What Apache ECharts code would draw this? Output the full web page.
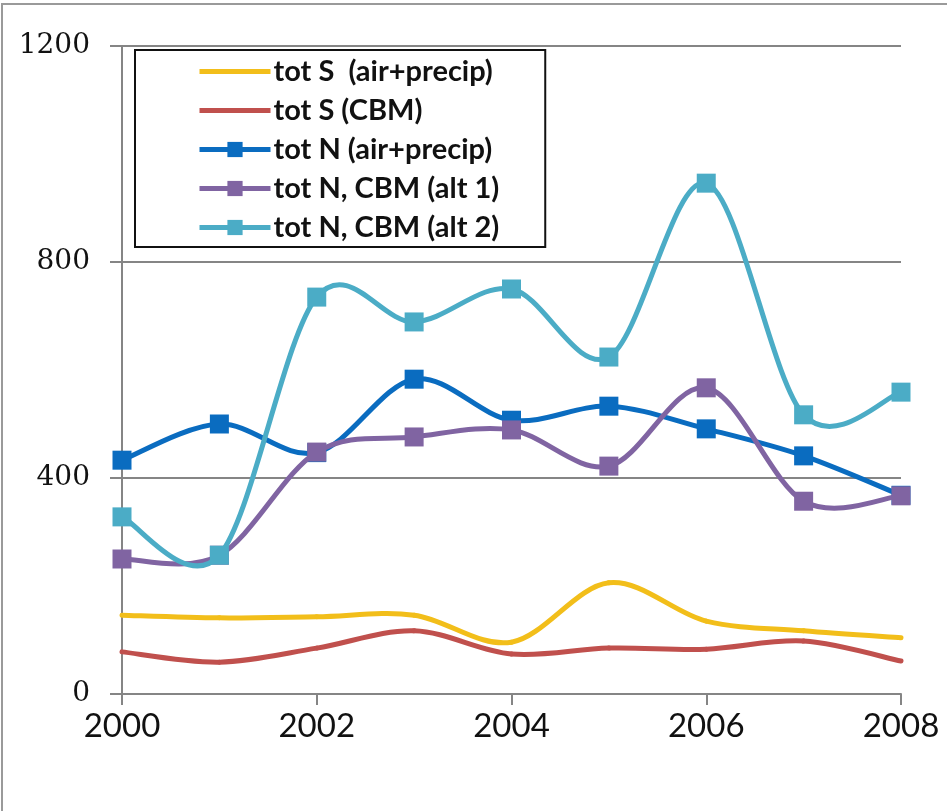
<!DOCTYPE html>
<html>
<head>
<meta charset="utf-8">
<script src="https://cdn.jsdelivr.net/npm/echarts@6/dist/echarts.min.js"></script>
<style>
  html, body { margin: 0; padding: 0; background: #fff; }
  #chart { width: 947px; height: 811px; }
</style>
</head>
<body>
<div id="chart"></div>
<script>
// Annual totals, 2000-2008
const years = [2000, 2001, 2002, 2003, 2004, 2005, 2006, 2007, 2008];
const seriesNames = [
  'tot S  (air+precip)',
  'tot S (CBM)',
  'tot N (air+precip)',
  'tot N, CBM (alt 1)',
  'tot N, CBM (alt 2)'
];
const totSAirPrecip = [146, 141, 143, 146, 96, 206, 135, 117, 104];
const totSCBM       = [78, 59, 85, 117, 74, 85, 83, 98, 61];
const totNAirPrecip = [433, 500, 447, 583, 507, 533, 491, 441, 368];
const totNCBMAlt1   = [250, 257, 448, 476, 489, 422, 567, 357, 367];
const totNCBMAlt2   = [328, 257, 735, 689, 750, 624, 946, 517, 559];
const yTicks = [0, 400, 800, 1200];
const xTicks = [2000, 2002, 2004, 2006, 2008];

const colors = ['#F2BE1A', '#C0504D', '#0A6CC0', '#8064A2', '#4BACC6'];
const values = [totSAirPrecip, totSCBM, totNAirPrecip, totNCBMAlt1, totNCBMAlt2];
const withMarkers = [false, false, true, true, true];
const LINE_W = 5;

const pairs = arr => years.map((y, i) => [y, arr[i]]);

// Spreadsheet-style spline: each segment is a cubic Bezier whose control
// points follow the neighbouring points (tension 1/6), in pixel space.
function splineSegment(vals, color) {
  return function (params, api) {
    const i = params.dataIndex;
    const n = years.length;
    if (i >= n - 1) return null;
    const pt = j => {
      const k = Math.max(0, Math.min(n - 1, j));
      return api.coord([years[k], vals[k]]);
    };
    const p0 = pt(i - 1), p1 = pt(i), p2 = pt(i + 1), p3 = pt(i + 2);
    const t = 1 / 6;
    return {
      type: 'bezierCurve',
      shape: {
        x1: p1[0], y1: p1[1],
        x2: p2[0], y2: p2[1],
        cpx1: p1[0] + (p2[0] - p0[0]) * t,
        cpy1: p1[1] + (p2[1] - p0[1]) * t,
        cpx2: p2[0] - (p3[0] - p1[0]) * t,
        cpy2: p2[1] - (p3[1] - p1[1]) * t
      },
      style: { stroke: color, lineWidth: LINE_W, fill: null, lineCap: 'round', lineJoin: 'round' },
      silent: true
    };
  };
}

const series = [];
seriesNames.forEach((name, i) => {
  series.push({
    type: 'custom',
    data: pairs(values[i]),
    encode: { x: 0, y: 1 },
    renderItem: splineSegment(values[i], colors[i]),
    z: 2 + 2 * i,
    silent: true
  });
  series.push({
    name: name,
    type: 'line',
    data: pairs(values[i]),
    symbol: withMarkers[i] ? 'rect' : 'none',
    symbolSize: 19,
    showSymbol: withMarkers[i],
    lineStyle: { color: colors[i], width: LINE_W, opacity: 0 },
    itemStyle: { color: colors[i] },
    z: 3 + 2 * i,
    emphasis: { disabled: true }
  });
});

const legendData = seriesNames.map((name, i) => ({
  name: name,
  lineStyle: { color: colors[i], width: LINE_W, opacity: 1 },
  itemStyle: withMarkers[i]
    ? { color: colors[i], opacity: 1 }
    : { color: 'rgba(0,0,0,0)', opacity: 0 }
}));

const chart = echarts.init(document.getElementById('chart'), null, { renderer: 'canvas' });

chart.setOption({
  animation: false,
  backgroundColor: '#ffffff',
  color: colors,
  grid: { left: 122, right: 46, top: 46, bottom: 117, containLabel: false },
  graphic: [{
    type: 'rect',
    shape: { x: 2, y: 4, width: 1000, height: 900 },
    style: { fill: 'none', stroke: '#9a9a9a', lineWidth: 2 },
    silent: true, z: 0
  }],
  legend: {
    orient: 'vertical',
    left: 135,
    top: 50,
    padding: [7, 46, 5, 62],
    backgroundColor: '#ffffff',
    borderColor: '#111111',
    borderWidth: 2,
    itemWidth: 71,
    itemHeight: 19,
    itemGap: 10,
    selectedMode: false,
    textStyle: {
      fontFamily: 'Lato',
      fontWeight: 'bold',
      fontSize: 29,
      lineHeight: 29,
      color: '#111111',
      padding: [0, 0, 0, -2]
    },
    data: legendData
  },
  xAxis: {
    type: 'value',
    min: xTicks[0],
    max: xTicks[xTicks.length - 1],
    interval: 2,
    axisLine: { show: true, lineStyle: { color: '#858585', width: 2 } },
    axisTick: { show: true, length: 11, lineStyle: { color: '#858585', width: 2 } },
    splitLine: { show: false },
    axisLabel: {
      margin: 16,
      fontFamily: 'Lato',
      fontSize: 33,
      color: '#111111',
      formatter: v => String(v)
    }
  },
  yAxis: {
    type: 'value',
    min: yTicks[0],
    max: yTicks[yTicks.length - 1],
    interval: 400,
    axisLine: { show: true, lineStyle: { color: '#858585', width: 2 } },
    axisTick: { show: true, length: 12, lineStyle: { color: '#858585', width: 2 } },
    splitLine: { show: true, lineStyle: { color: '#858585', width: 2 } },
    axisLabel: {
      margin: 32,
      fontFamily: 'DejaVu Serif',
      fontSize: 28,
      color: '#111111',
      formatter: v => String(v)
    }
  },
  series: series
});
</script>
</body>
</html>
